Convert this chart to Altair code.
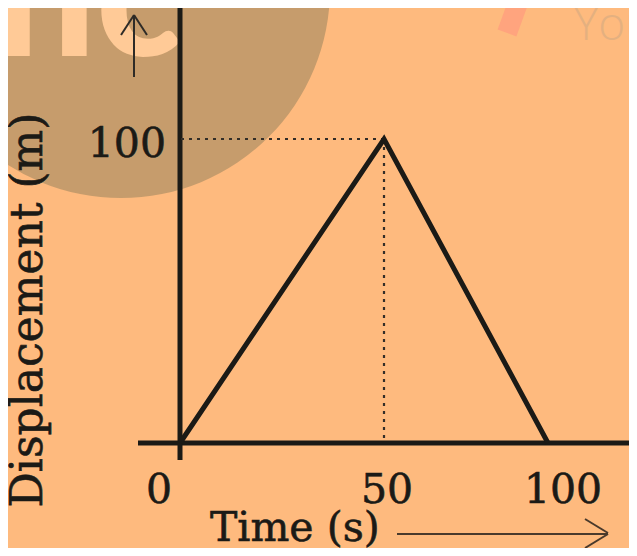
import altair as alt
import pandas as pd

# ---- data ----
time_s = [0, 50, 100]
displacement_m = [0, 100, 0]
x_tick_values = [0, 50, 100]
x_tick_labels = ["0", "50", "100"]
y_tick_values = [100]
y_tick_labels = ["100"]
peak_time = [50]
peak_disp = [100]
x_title = "Time (s)"
y_title = "Displacement (m)"

# ---- styles ----
W, H = 621, 540
BG = "#FEBA7E"
INK = "#1b1a16"
SERIF = "DejaVu Serif"
TXT = dict(font=SERIF, color=INK, stroke=INK, strokeWidth=0.6)

xscale = alt.Scale(domain=[0, 50, 100], range=[172, 376, 540], nice=False, zero=False)
yscale = alt.Scale(domain=[0, 100], range=[435, 131], nice=False, zero=False)

one = pd.DataFrame({"k": [0]})
df_line = pd.DataFrame({"t": time_s, "d": displacement_m})
df_peak = pd.DataFrame({"t": peak_time, "d": peak_disp})

layers = []

# watermark (decoration)
layers.append(alt.Chart(one).mark_point(shape="circle", filled=True, size=418 * 418,
              color="#103B33", opacity=0.235, strokeWidth=0)
              .encode(x=alt.value(113), y=alt.value(-19)))
layers.append(alt.Chart(one).mark_text(text="nc", font="Lato", fontWeight=900, fontSize=178,
              color="#FFCA97", align="left", baseline="alphabetic")
              .encode(x=alt.value(-13), y=alt.value(48)))
layers.append(alt.Chart(one).mark_rule(color="#FFA47E", strokeWidth=20, strokeCap="butt")
              .encode(x=alt.value(499), y=alt.value(25), x2=alt.value(511), y2=alt.value(-8)))
layers.append(alt.Chart(one).mark_text(text="You", font="Open Sans", fontWeight=300, fontSize=46,
              color="#E4B080", align="left", baseline="alphabetic")
              .encode(x=alt.value(566), y=alt.value(32)))

# axis lines
layers.append(alt.Chart(one).mark_rule(color=INK, strokeWidth=5)
              .encode(x=alt.value(130), x2=alt.value(640),
                      y=alt.Y(datum=0, scale=yscale, axis=None)))
layers.append(alt.Chart(one).mark_rule(color=INK, strokeWidth=5)
              .encode(x=alt.X(datum=0, scale=xscale, axis=None),
                      y=alt.value(0), y2=alt.value(452)))

# dotted guides to the peak
layers.append(alt.Chart(df_peak).mark_rule(color="#332e28", strokeWidth=2.2, strokeDash=[3, 5])
              .encode(x=alt.X("t:Q", scale=xscale, axis=None), x2=alt.datum(0),
                      y=alt.Y("d:Q", scale=yscale, axis=None)))
layers.append(alt.Chart(df_peak).mark_rule(color="#332e28", strokeWidth=2.2, strokeDash=[3, 5])
              .encode(x=alt.X("t:Q", scale=xscale, axis=None),
                      y=alt.Y("d:Q", scale=yscale, axis=None), y2=alt.datum(0)))

# the displacement-time graph
layers.append(alt.Chart(df_line).mark_line(color=INK, strokeWidth=5, strokeJoin="miter")
              .encode(x=alt.X("t:Q", scale=xscale, axis=None),
                      y=alt.Y("d:Q", scale=yscale, axis=None)))

# tick labels
x_label_dx = [-21, 3, 15]
for v, lab, off in zip(x_tick_values, x_tick_labels, x_label_dx):
    layers.append(alt.Chart(pd.DataFrame({"v": [v], "lab": [lab]}))
                  .mark_text(fontSize=41, align="center", baseline="alphabetic",
                             dx=off, dy=60, **TXT)
                  .encode(x=alt.X("v:Q", scale=xscale, axis=None),
                          y=alt.Y(datum=0, scale=yscale, axis=None), text="lab:N"))
for v, lab in zip(y_tick_values, y_tick_labels):
    layers.append(alt.Chart(pd.DataFrame({"v": [v], "lab": [lab]}))
                  .mark_text(fontSize=41, align="right", baseline="alphabetic",
                             dx=-14, dy=18, **TXT)
                  .encode(x=alt.X(datum=0, scale=xscale, axis=None),
                          y=alt.Y("v:Q", scale=yscale, axis=None), text="lab:N"))

# axis titles
layers.append(alt.Chart(one).mark_text(text=x_title, fontSize=41, align="left",
              baseline="alphabetic", **TXT)
              .encode(x=alt.value(202), y=alt.value(533)))
layers.append(alt.Chart(one).mark_text(text=y_title, fontSize=44, align="center",
              baseline="alphabetic", angle=270, **TXT)
              .encode(x=alt.value(34), y=alt.value(302)))

# arrows next to the titles
for (xa, ya, xb, yb) in [(126, 69, 126, 7), (113, 27, 126, 7), (139, 27, 126, 7)]:
    layers.append(alt.Chart(one).mark_rule(color="#2e2b27", strokeWidth=2)
                  .encode(x=alt.value(xa), y=alt.value(ya), x2=alt.value(xb), y2=alt.value(yb)))
for (xa, ya, xb, yb) in [(389, 526, 600, 526), (577, 511, 600, 525), (577, 540, 600, 526)]:
    layers.append(alt.Chart(one).mark_rule(color="#4a3a2c", strokeWidth=2)
                  .encode(x=alt.value(xa), y=alt.value(ya), x2=alt.value(xb), y2=alt.value(yb)))

chart = alt.layer(*layers).properties(
    width=W, height=H, background=BG, padding=0,
    autosize=alt.AutoSizeParams(type="none"),
).configure_view(stroke=None)

chart.save("out.html", embed_options={"renderer": "svg", "actions": False})
